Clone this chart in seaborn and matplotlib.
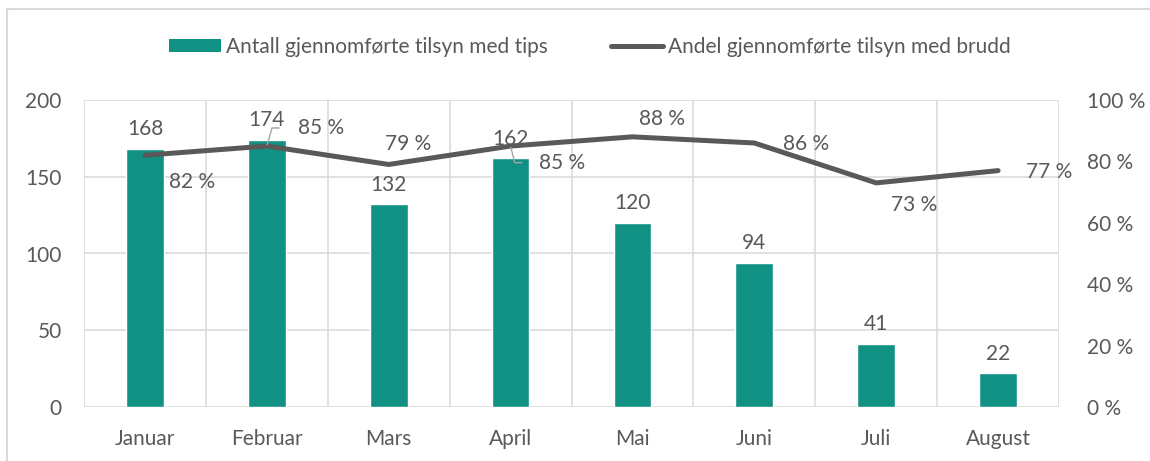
import matplotlib
matplotlib.use('Agg')
import matplotlib.pyplot as plt
import seaborn as sns
import pandas as pd
from matplotlib.patches import Patch, Rectangle
from matplotlib.lines import Line2D

# =============================================================================
# Data
# =============================================================================
months = ['Januar', 'Februar', 'Mars', 'April', 'Mai', 'Juni', 'Juli', 'August']
tips_count = [168, 174, 132, 162, 120, 94, 41, 22]
breach_share = [82, 85, 79, 85, 88, 86, 73, 77]

left_ticks = [0, 50, 100, 150, 200]
right_ticks = [0, 20, 40, 60, 80, 100]
right_tick_labels = ['0 %', '20 %', '40 %', '60 %', '80 %', '100 %']

bar_name = 'Antall gjennomførte tilsyn med tips'
line_name = 'Andel gjennomførte tilsyn med brudd'

df = pd.DataFrame({'month': months, 'count': tips_count, 'share': breach_share})

# =============================================================================
# Style
# =============================================================================
bar_color = '#109184'
line_color = '#595959'
text_color = '#595959'
grid_color = '#d9d9d9'
fs = 15

sns.set_theme(style='white')
plt.rcParams['font.family'] = ['Lato', 'DejaVu Sans']
plt.rcParams['text.color'] = text_color

W, H = 1150, 461
fig = plt.figure(figsize=(W / 100, H / 100), dpi=100)
ax = fig.add_axes([84 / W, (H - 407) / H, 975 / W, 307 / H])

#Bars
sns.barplot(data=df, x='month', y='count', color=bar_color, width=0.31,
            saturation=1, ax=ax, zorder=2)
ax.bar_label(ax.containers[0], fontsize=fs, color=text_color, padding=7)

ax.set_xlim(-0.5, len(months) - 0.5)
ax.set_ylim(0, 200)
ax.set_yticks(left_ticks)
ax.set_xticks([i - 0.5 for i in range(len(months) + 1)], minor=True)
ax.grid(axis='y', which='major', color=grid_color, linewidth=1.1, zorder=0)
ax.grid(axis='x', which='minor', color=grid_color, linewidth=1.1, zorder=0)
ax.grid(axis='x', which='major', visible=False)
for s in ax.spines.values():
    s.set_visible(False)
ax.tick_params(axis='y', length=0, pad=16, labelsize=fs, labelcolor=text_color)
ax.tick_params(axis='x', which='both', length=0, pad=16, labelsize=fs, labelcolor=text_color)
ax.set_xlabel('')
ax.set_ylabel('')
ax.set_axisbelow(True)

#Line on secondary axis
ax2 = ax.twinx()
sns.lineplot(data=df, x='month', y='share', sort=False, color=line_color,
             linewidth=3.6, ax=ax2)
ax2.lines[0].set_solid_capstyle('round')
ax2.set_ylim(0, 100)
ax2.set_yticks(right_ticks)
ax2.set_yticklabels(right_tick_labels)
ax2.tick_params(axis='y', length=0, pad=20, labelsize=fs, labelcolor=text_color)
ax2.set_ylabel('')
ax2.grid(False)
for s in ax2.spines.values():
    s.set_visible(False)

# label offsets (points) per month, set by hand like in the original
label_offsets = [(34, -19), (39, 13), (14, 15), (37, -12), (21, 13), (37, -1), (27, -16), (37, -1)]
for i, (m, v) in enumerate(zip(months, breach_share)):
    dx, dy = label_offsets[i]
    props = None
    if i == 1:
        props = dict(arrowstyle='-', color='#a6a6a6', lw=1, relpos=(0, 0.5),
                     shrinkA=11, shrinkB=1, connectionstyle='angle,angleA=0,angleB=74,rad=0')
    if i == 3:
        props = dict(arrowstyle='-', color='#a6a6a6', lw=1, relpos=(0, 0.5),
                     shrinkA=10, shrinkB=1, connectionstyle='angle,angleA=0,angleB=-76,rad=0')
    ax2.annotate(f'{v} %', xy=(i, v), xytext=(dx, dy), textcoords='offset points',
                 ha='center', va='center', fontsize=fs, color=text_color,
                 arrowprops=props)

#Legend
handles = [Patch(facecolor=bar_color, edgecolor='none'),
           Line2D([0], [0], color=line_color, linewidth=3.6, solid_capstyle='round')]
fig.legend(handles, [bar_name, line_name], loc='center', bbox_to_anchor=(590 / W, 1 - 47 / H),
           ncol=2, frameon=False, fontsize=fs, handlelength=2.5, handleheight=0.6,
           handletextpad=0.25, columnspacing=3.0, labelcolor=text_color)

#Outer chart border
fig.add_artist(Rectangle((7 / W, -0.05), 1.2, 1.05 - 9 / H, transform=fig.transFigure,
                         fill=False, edgecolor=grid_color, linewidth=1.5))

plt.savefig('out.png', dpi=100)
